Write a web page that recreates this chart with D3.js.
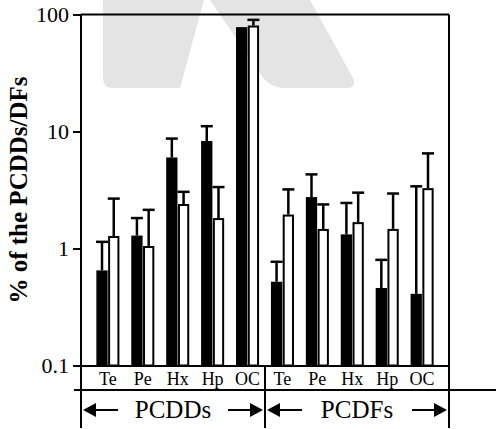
<!DOCTYPE html>
<html>
<head>
<meta charset="utf-8">
<script src="https://cdn.jsdelivr.net/npm/d3@7"></script>
<style>
  html, body { margin: 0; padding: 0; background: #fff; }
  svg { display: block; }
  text { font-family: "Liberation Serif", "Times New Roman", serif; fill: #000; }
</style>
</head>
<body>
<script>
// ---- data ----
const categories = ["Te", "Pe", "Hx", "Hp", "OC", "Te", "Pe", "Hx", "Hp", "OC"];
const groupNames = ["PCDDs", "PCDFs"];
const groupOf = [0, 0, 0, 0, 0, 1, 1, 1, 1, 1];
const solidValues = [0.65, 1.29, 6.0, 8.3, 78, 0.52, 2.75, 1.32, 0.46, 0.41];
const solidUpper  = [1.14, 1.82, 8.7, 11.1, null, 0.77, 4.3, 2.45, 0.8, 3.4];
const openValues  = [1.28, 1.05, 2.4, 1.82, 80.5, 1.95, 1.47, 1.68, 1.47, 3.28];
const openUpper   = [2.67, 2.14, 3.05, 3.35, 90, 3.2, 2.38, 3.0, 2.95, 6.5];
const yTicks = [0.1, 1, 10, 100];
const yTickLabels = ["0.1", "1", "10", "100"];
const yTitle = "% of the PCDDs/DFs";

(function () {
const W = 496, H = 429;
const pLeft = 81, pRight = 449, pTop = 14.5, plotBottom = 366, rowBottom = 390, pBottom = 428;

const svg = d3.select("body").append("svg").attr("width", W).attr("height", H);

// faint watermark behind the chart
svg.append("path")
  .attr("d", "M103,0 L204,0 L180,88 L113,88 Q103,88 103,78 Z")
  .attr("fill", "#e4e4e4");
svg.append("path")
  .attr("d", "M210,0 L310,0 L353,78 Q357,88 346,88 L286,88 Q270,88 262,76 Z")
  .attr("fill", "#e4e4e4");

const idx = d3.range(categories.length);
const x = d3.scaleBand().domain(idx).range([pLeft, pRight]).paddingInner(0.34).paddingOuter(0.44);
const xs = d3.scaleBand().domain(["solid", "open"]).range([0, x.bandwidth()]).paddingInner(0.04);
const y = d3.scaleLog().domain([0.1, 100]).range([365.5, pTop]);
const bw = xs.bandwidth();

// solid bars
svg.append("g").selectAll("rect").data(idx).join("rect")
  .attr("x", i => x(i) + xs("solid"))
  .attr("y", i => y(solidValues[i]))
  .attr("width", bw)
  .attr("height", i => y(0.1) - y(solidValues[i]))
  .attr("fill", "#000");

// open bars
svg.append("g").selectAll("rect").data(idx).join("rect")
  .attr("x", i => x(i) + xs("open") + 1)
  .attr("y", i => y(openValues[i]) + 1)
  .attr("width", bw - 2)
  .attr("height", i => y(0.1) - y(openValues[i]) - 1)
  .attr("fill", "#fff")
  .attr("stroke", "#000")
  .attr("stroke-width", 2);

// error bars
function errorBars(vals, ups, key) {
  const g = svg.append("g").attr("stroke", "#000").attr("stroke-width", 2.5);
  idx.filter(i => ups[i] != null).forEach(i => {
    const cx = x(i) + xs(key) + bw / 2;
    g.append("line").attr("x1", cx).attr("x2", cx).attr("y1", y(vals[i])).attr("y2", y(ups[i]));
    g.append("line").attr("x1", cx - 6).attr("x2", cx + 6).attr("y1", y(ups[i])).attr("y2", y(ups[i]));
  });
}
errorBars(solidValues, solidUpper, "solid");
errorBars(openValues, openUpper, "open");

// y axis
const yAxis = d3.axisLeft(y).tickValues(yTicks).tickFormat((d, i) => yTickLabels[i]).tickSize(8).tickPadding(4);
const ga = svg.append("g").attr("transform", `translate(${pLeft},0)`).call(yAxis);
ga.select(".domain").remove();
ga.selectAll(".tick line").attr("stroke", "#000").attr("stroke-width", 2);
ga.selectAll(".tick text").attr("font-size", 22).attr("fill", "#000");

// frame lines
const sepX = (x(4) + x.bandwidth() + x(5)) / 2;
const lines = [
  [pLeft, pTop, pRight, pTop],
  [pLeft, pTop, pLeft, pBottom],
  [pRight, pTop, pRight, pBottom],
  [pLeft, plotBottom, pRight, plotBottom],
  [74, rowBottom, W, rowBottom],
  [sepX, plotBottom, sepX, pBottom]
];
svg.append("g").selectAll("line").data(lines).join("line")
  .attr("x1", d => d[0]).attr("y1", d => d[1]).attr("x2", d => d[2]).attr("y2", d => d[3])
  .attr("stroke", "#000").attr("stroke-width", 2);

// category labels
svg.append("g").selectAll("text").data(idx).join("text")
  .attr("x", i => x(i) + x.bandwidth() / 2)
  .attr("y", 385)
  .attr("text-anchor", "middle")
  .attr("font-size", 18)
  .text(i => categories[i]);

// group labels with arrows
const groupBounds = [[pLeft, sepX], [sepX, pRight]];
groupNames.forEach((name, g) => {
  const [l, r] = groupBounds[g];
  const c = (l + r) / 2;
  const ay = 410;
  svg.append("text").attr("x", c).attr("y", 418).attr("text-anchor", "middle")
    .attr("font-size", 25).text(name);
  const gg = svg.append("g");
  gg.append("line").attr("x1", l + 12).attr("x2", l + 37).attr("y1", ay).attr("y2", ay)
    .attr("stroke", "#000").attr("stroke-width", 2);
  gg.append("line").attr("x1", r - 37).attr("x2", r - 12).attr("y1", ay).attr("y2", ay)
    .attr("stroke", "#000").attr("stroke-width", 2);
  gg.append("path").attr("d", `M${l + 2},${ay} L${l + 15},${ay - 7} L${l + 15},${ay + 7} Z`).attr("fill", "#000");
  gg.append("path").attr("d", `M${r - 2},${ay} L${r - 15},${ay - 7} L${r - 15},${ay + 7} Z`).attr("fill", "#000");
});

// y title
svg.append("text")
  .attr("transform", "translate(27,190) rotate(-90)")
  .attr("text-anchor", "middle")
  .attr("font-size", 25)
  .attr("font-weight", "bold")
  .text(yTitle);
})();
</script>
</body>
</html>
